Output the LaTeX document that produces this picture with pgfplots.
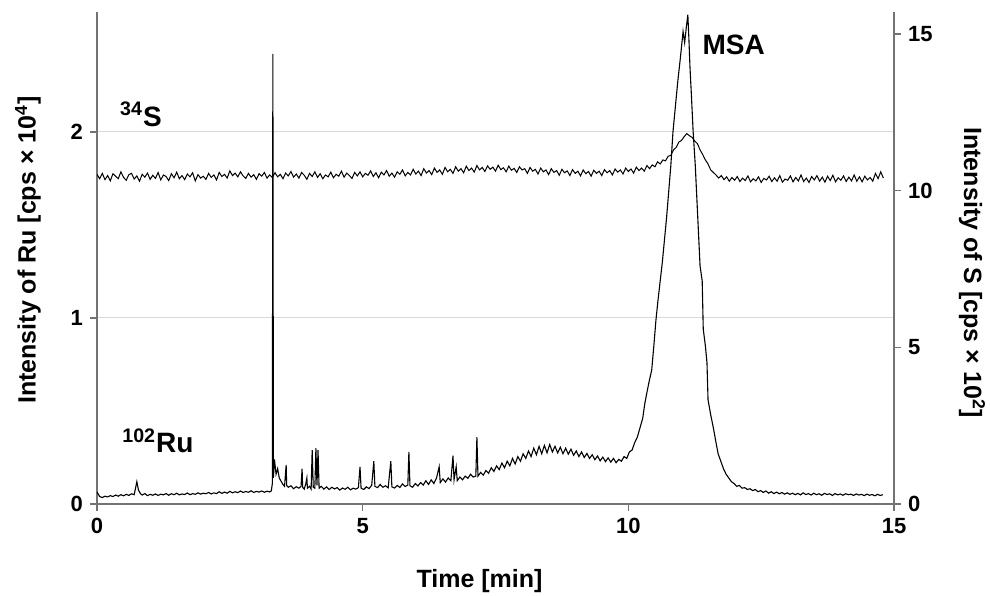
\documentclass[border=0pt]{standalone}
\usepackage{fontspec}
\setmainfont{Liberation Sans}
\usepackage{pgfplots}
\pgfplotsset{compat=1.18}

\newcommand{\tickfont}{\fontsize{11bp}{13bp}\selectfont\bfseries}
\newcommand{\labfont}{\fontsize{12.5bp}{15bp}\selectfont\bfseries}
\newcommand{\annfont}{\fontsize{14bp}{16bp}\selectfont\bfseries}

\pgfplotsset{
  chrom/.style={
    scale only axis, width=398.5bp, height=246bp,
    xmin=0, xmax=15,
    tick align=outside, major tick length=3.5bp,
    axis line style={black!55, line width=0.6bp},
    tick style={black!55, line width=0.6bp},
    tick label style={font=\tickfont},
    /pgf/number format/assume math mode=true,
    label style={font=\labfont},
  },
}

\begin{document}
\begin{tikzpicture}
\useasboundingbox (-48.5bp,-46bp) rectangle (446.5bp,252bp);

% Ru (left axis, cps x 10^4)
\begin{axis}[chrom,
    ymin=0, ymax=2.645,
    axis x line*=bottom, axis y line*=left,
    xtick={0,5,10,15}, ytick={0,1,2},
    ymajorgrids, grid style={black!15, line width=0.5bp},
    xlabel={Time [min]},
    xlabel style={at={(axis description cs:0.48,-0.1687)}, anchor=base},
    ylabel={Intensity of Ru [cps × 10\textsuperscript{4}]},
    ylabel style={at={(axis description cs:-0.0866,0.516)}, anchor=center},
]
\addplot[black, line width=0.55bp] coordinates {
(0.00,0.065)(0.05,0.040)(0.10,0.035)(0.15,0.042)(0.20,0.038)(0.25,0.045)(0.30,0.040)(0.35,0.048)
(0.40,0.042)(0.45,0.050)(0.50,0.044)(0.55,0.052)(0.60,0.046)(0.65,0.055)(0.70,0.050)(0.75,0.120)
(0.78,0.075)(0.82,0.055)(0.85,0.048)(0.90,0.056)(0.95,0.045)(1.00,0.052)(1.05,0.047)(1.10,0.054)
(1.15,0.046)(1.20,0.053)(1.25,0.049)(1.30,0.056)(1.35,0.047)(1.40,0.055)(1.45,0.050)(1.50,0.058)
(1.55,0.049)(1.60,0.054)(1.65,0.051)(1.70,0.059)(1.75,0.050)(1.80,0.056)(1.85,0.052)(1.90,0.060)
(1.95,0.053)(2.00,0.058)(2.05,0.055)(2.10,0.062)(2.15,0.054)(2.20,0.060)(2.25,0.056)(2.30,0.066)
(2.35,0.057)(2.40,0.064)(2.45,0.058)(2.50,0.068)(2.55,0.060)(2.60,0.066)(2.65,0.061)(2.70,0.070)
(2.75,0.062)(2.80,0.067)(2.85,0.063)(2.90,0.071)(2.95,0.062)(3.00,0.068)(3.05,0.064)(3.10,0.070)
(3.15,0.063)(3.20,0.069)(3.25,0.065)(3.28,0.070)(3.30,0.110)(3.31,2.420)(3.32,0.140)(3.34,0.240)
(3.37,0.160)(3.40,0.190)(3.43,0.140)(3.47,0.120)(3.50,0.105)(3.53,0.095)(3.56,0.210)(3.57,0.100)
(3.60,0.090)(3.65,0.098)(3.70,0.082)(3.75,0.093)(3.80,0.085)(3.84,0.095)(3.86,0.190)(3.87,0.090)
(3.90,0.080)(3.93,0.110)(3.95,0.140)(3.96,0.085)(4.00,0.095)(4.03,0.080)(4.05,0.290)(4.07,0.090)
(4.10,0.085)(4.12,0.300)(4.14,0.100)(4.16,0.290)(4.18,0.085)(4.22,0.095)(4.27,0.080)(4.32,0.092)
(4.37,0.078)(4.42,0.090)(4.47,0.081)(4.52,0.088)(4.57,0.075)(4.62,0.086)(4.67,0.079)(4.72,0.090)
(4.77,0.076)(4.82,0.085)(4.87,0.080)(4.92,0.088)(4.95,0.200)(4.97,0.085)(5.02,0.078)(5.07,0.092)
(5.12,0.083)(5.17,0.100)(5.21,0.230)(5.23,0.095)(5.28,0.088)(5.33,0.105)(5.38,0.090)(5.43,0.098)
(5.48,0.087)(5.53,0.230)(5.55,0.092)(5.60,0.086)(5.65,0.100)(5.70,0.089)(5.75,0.108)(5.80,0.094)
(5.85,0.102)(5.87,0.280)(5.89,0.098)(5.94,0.090)(5.99,0.110)(6.04,0.097)(6.09,0.115)(6.14,0.102)
(6.19,0.125)(6.24,0.105)(6.29,0.130)(6.34,0.110)(6.39,0.140)(6.44,0.200)(6.46,0.115)(6.51,0.135)
(6.56,0.118)(6.61,0.140)(6.66,0.125)(6.70,0.260)(6.72,0.130)(6.76,0.200)(6.78,0.125)(6.83,0.145)
(6.88,0.130)(6.93,0.150)(6.98,0.138)(7.03,0.160)(7.08,0.145)(7.13,0.150)(7.15,0.360)(7.17,0.150)
(7.22,0.170)(7.27,0.155)(7.32,0.180)(7.37,0.165)(7.42,0.195)(7.47,0.175)(7.52,0.205)(7.57,0.185)
(7.62,0.220)(7.67,0.195)(7.72,0.230)(7.77,0.205)(7.82,0.245)(7.87,0.215)(7.92,0.255)(7.97,0.230)
(8.02,0.270)(8.07,0.245)(8.12,0.285)(8.17,0.255)(8.22,0.300)(8.27,0.265)(8.32,0.310)(8.37,0.270)
(8.42,0.315)(8.47,0.275)(8.52,0.320)(8.57,0.280)(8.62,0.310)(8.67,0.275)(8.72,0.305)(8.77,0.270)
(8.82,0.300)(8.87,0.268)(8.92,0.295)(8.97,0.262)(9.02,0.285)(9.07,0.255)(9.12,0.280)(9.17,0.250)
(9.22,0.272)(9.27,0.245)(9.32,0.265)(9.37,0.238)(9.42,0.258)(9.47,0.232)(9.52,0.252)(9.57,0.228)
(9.62,0.248)(9.67,0.225)(9.72,0.245)(9.77,0.222)(9.82,0.240)(9.87,0.230)(9.92,0.255)(9.97,0.245)
(10.02,0.280)(10.07,0.290)(10.12,0.330)(10.17,0.360)(10.22,0.410)(10.27,0.460)(10.31,0.540)(10.35,0.600)
(10.40,0.670)(10.44,0.720)(10.48,0.850)(10.52,0.990)(10.56,1.100)(10.60,1.200)(10.64,1.300)(10.68,1.420)
(10.72,1.540)(10.76,1.680)(10.80,1.820)(10.84,2.000)(10.88,2.120)(10.93,2.270)(10.98,2.400)(11.03,2.540)
(11.06,2.480)(11.09,2.560)(11.12,2.630)(11.14,2.500)(11.16,2.350)(11.19,2.180)(11.22,2.000)(11.26,1.820)
(11.29,1.640)(11.32,1.460)(11.35,1.280)(11.39,1.200)(11.41,0.940)(11.45,0.850)(11.48,0.760)(11.50,0.560)
(11.55,0.480)(11.60,0.410)(11.65,0.330)(11.69,0.270)(11.74,0.230)(11.79,0.190)(11.84,0.160)(11.89,0.140)
(11.94,0.120)(11.99,0.110)(12.04,0.095)(12.09,0.100)(12.14,0.085)(12.19,0.088)(12.24,0.078)(12.29,0.082)
(12.34,0.072)(12.39,0.078)(12.44,0.066)(12.49,0.072)(12.54,0.062)(12.59,0.070)(12.64,0.058)(12.69,0.066)
(12.74,0.056)(12.79,0.064)(12.84,0.055)(12.89,0.062)(12.94,0.053)(12.99,0.060)(13.04,0.052)(13.09,0.058)
(13.14,0.050)(13.19,0.057)(13.24,0.049)(13.29,0.060)(13.34,0.051)(13.39,0.056)(13.44,0.048)(13.49,0.058)
(13.54,0.050)(13.59,0.055)(13.64,0.047)(13.69,0.057)(13.74,0.051)(13.79,0.055)(13.84,0.046)(13.89,0.056)
(13.94,0.049)(13.99,0.054)(14.04,0.047)(14.09,0.055)(14.14,0.050)(14.19,0.053)(14.24,0.046)(14.29,0.054)
(14.34,0.048)(14.39,0.052)(14.44,0.045)(14.49,0.053)(14.54,0.047)(14.59,0.051)(14.64,0.044)(14.69,0.052)
(14.74,0.046)(14.79,0.050)
};
\node[anchor=base west, font=\annfont, inner sep=0pt] at (axis cs:0.43,2.03) {\textsuperscript{34}S};
\node[anchor=base west, font=\annfont, inner sep=0pt] at (axis cs:0.47,0.275) {\textsuperscript{102}Ru};
\node[anchor=base west, font=\annfont, inner sep=0pt] at (axis cs:11.39,2.418) {MSA};
\end{axis}

% S (right axis, cps x 10^2)
\begin{axis}[chrom,
    ymin=0, ymax=15.7,
    axis x line=none, axis y line*=right,
    ytick={0,5,10,15},
    ylabel={Intensity of S [cps × 10\textsuperscript{2}]},
    ylabel style={at={(axis description cs:1.0979,0.47)}, anchor=center, rotate=180},
]
\addplot[black, line width=0.5bp] coordinates {
(0.00,10.52)(0.05,10.38)(0.10,10.55)(0.15,10.35)(0.20,10.48)(0.25,10.31)(0.30,10.54)(0.35,10.46)
(0.40,10.38)(0.45,10.60)(0.50,10.42)(0.55,10.33)(0.60,10.51)(0.65,10.55)(0.70,10.37)(0.75,10.47)
(0.80,10.30)(0.85,10.52)(0.90,10.43)(0.95,10.56)(1.00,10.36)(1.05,10.49)(1.10,10.39)(1.15,10.58)
(1.20,10.34)(1.25,10.50)(1.30,10.45)(1.35,10.32)(1.40,10.54)(1.45,10.41)(1.50,10.59)(1.55,10.38)
(1.60,10.48)(1.65,10.35)(1.70,10.53)(1.75,10.44)(1.80,10.57)(1.85,10.31)(1.90,10.51)(1.95,10.40)
(2.00,10.46)(2.05,10.36)(2.10,10.55)(2.15,10.42)(2.20,10.50)(2.25,10.34)(2.30,10.58)(2.35,10.45)
(2.40,10.52)(2.45,10.40)(2.50,10.63)(2.55,10.48)(2.60,10.56)(2.65,10.44)(2.70,10.60)(2.75,10.47)
(2.80,10.39)(2.85,10.55)(2.90,10.43)(2.95,10.51)(3.00,10.36)(3.05,10.54)(3.10,10.46)(3.15,10.58)
(3.20,10.40)(3.25,10.50)(3.30,10.42)(3.35,10.57)(3.40,10.44)(3.45,10.52)(3.50,10.38)(3.55,10.56)
(3.60,10.47)(3.65,10.61)(3.70,10.43)(3.75,10.53)(3.80,10.40)(3.85,10.58)(3.90,10.49)(3.95,10.36)
(4.00,10.55)(4.05,10.45)(4.10,10.60)(4.15,10.42)(4.20,10.54)(4.25,10.38)(4.30,10.50)(4.35,10.44)
(4.40,10.59)(4.45,10.41)(4.50,10.52)(4.55,10.46)(4.60,10.62)(4.65,10.43)(4.70,10.56)(4.75,10.48)
(4.80,10.39)(4.85,10.58)(4.90,10.47)(4.95,10.60)(5.00,10.44)(5.05,10.55)(5.10,10.49)(5.15,10.63)
(5.20,10.45)(5.25,10.57)(5.30,10.41)(5.35,10.59)(5.40,10.50)(5.45,10.64)(5.50,10.46)(5.55,10.56)
(5.60,10.43)(5.65,10.60)(5.70,10.52)(5.75,10.66)(5.80,10.47)(5.85,10.58)(5.90,10.50)(5.95,10.68)
(6.00,10.53)(6.05,10.62)(6.10,10.48)(6.15,10.70)(6.20,10.56)(6.25,10.64)(6.30,10.51)(6.35,10.72)
(6.40,10.58)(6.45,10.66)(6.50,10.52)(6.55,10.74)(6.60,10.60)(6.65,10.68)(6.70,10.55)(6.75,10.76)
(6.80,10.62)(6.85,10.70)(6.90,10.57)(6.95,10.78)(7.00,10.64)(7.05,10.72)(7.10,10.59)(7.15,10.80)
(7.20,10.66)(7.25,10.74)(7.30,10.61)(7.35,10.79)(7.40,10.68)(7.45,10.75)(7.50,10.62)(7.55,10.81)
(7.60,10.67)(7.65,10.73)(7.70,10.60)(7.75,10.78)(7.80,10.65)(7.85,10.71)(7.90,10.58)(7.95,10.76)
(8.00,10.66)(8.05,10.70)(8.10,10.55)(8.15,10.74)(8.20,10.62)(8.25,10.68)(8.30,10.53)(8.35,10.72)
(8.40,10.60)(8.45,10.66)(8.50,10.51)(8.55,10.70)(8.60,10.58)(8.65,10.64)(8.70,10.49)(8.75,10.68)
(8.80,10.57)(8.85,10.63)(8.90,10.48)(8.95,10.67)(9.00,10.55)(9.05,10.62)(9.10,10.47)(9.15,10.66)
(9.20,10.54)(9.25,10.61)(9.30,10.46)(9.35,10.65)(9.40,10.55)(9.45,10.62)(9.50,10.48)(9.55,10.67)
(9.60,10.57)(9.65,10.64)(9.70,10.50)(9.75,10.69)(9.80,10.59)(9.85,10.66)(9.90,10.53)(9.95,10.72)
(10.00,10.61)(10.05,10.69)(10.10,10.56)(10.15,10.75)(10.20,10.64)(10.25,10.72)(10.30,10.62)(10.35,10.80)
(10.40,10.70)(10.45,10.82)(10.50,10.76)(10.55,10.92)(10.60,10.85)(10.65,10.98)(10.70,10.95)(10.75,11.10)
(10.80,11.12)(10.85,11.30)(10.90,11.38)(10.95,11.55)(11.00,11.60)(11.05,11.72)(11.10,11.82)(11.15,11.75)
(11.20,11.70)(11.25,11.58)(11.30,11.50)(11.35,11.30)(11.40,11.15)(11.45,10.98)(11.50,10.85)(11.55,10.66)
(11.60,10.58)(11.65,10.50)(11.70,10.40)(11.75,10.48)(11.80,10.35)(11.85,10.44)(11.90,10.30)(11.95,10.42)
(12.00,10.33)(12.05,10.45)(12.10,10.29)(12.15,10.40)(12.20,10.32)(12.25,10.47)(12.30,10.28)(12.35,10.38)
(12.40,10.31)(12.45,10.44)(12.50,10.26)(12.55,10.39)(12.60,10.34)(12.65,10.46)(12.70,10.29)(12.75,10.41)
(12.80,10.30)(12.85,10.48)(12.90,10.27)(12.95,10.37)(13.00,10.33)(13.05,10.47)(13.10,10.28)(13.15,10.42)
(13.20,10.31)(13.25,10.50)(13.30,10.29)(13.35,10.40)(13.40,10.26)(13.45,10.45)(13.50,10.34)(13.55,10.48)
(13.60,10.30)(13.65,10.43)(13.70,10.27)(13.75,10.46)(13.80,10.32)(13.85,10.49)(13.90,10.28)(13.95,10.41)
(14.00,10.33)(14.05,10.47)(14.10,10.29)(14.15,10.43)(14.20,10.31)(14.25,10.50)(14.30,10.30)(14.35,10.44)
(14.40,10.28)(14.45,10.46)(14.50,10.34)(14.55,10.42)(14.60,10.30)(14.65,10.55)(14.70,10.38)(14.75,10.60)
(14.80,10.40)
};
\end{axis}
\end{tikzpicture}
\end{document}
